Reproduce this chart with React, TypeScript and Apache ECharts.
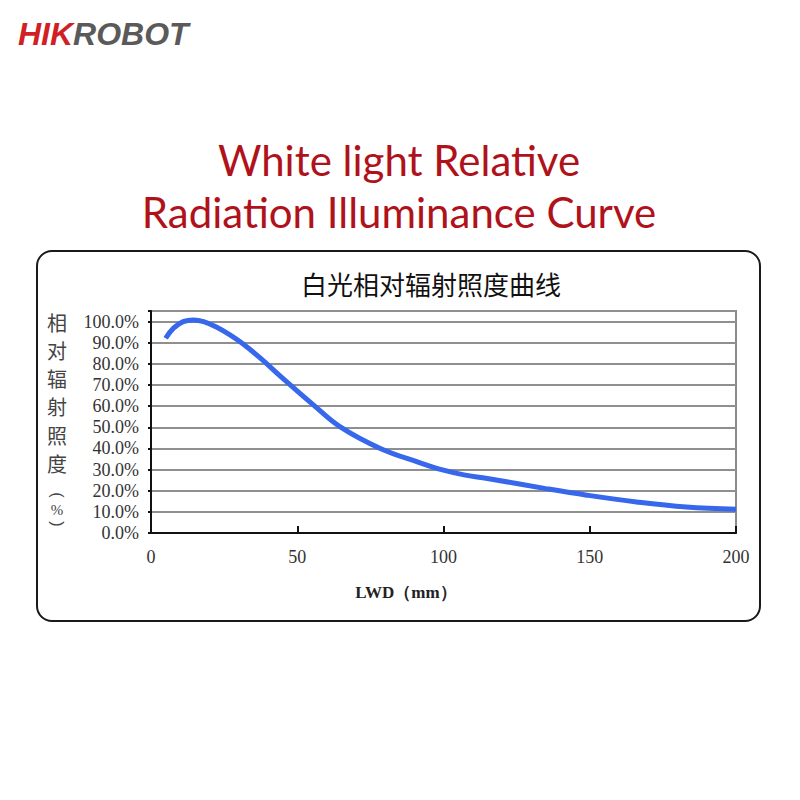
import React, { useEffect, useRef } from "react";
import * as echarts from "echarts";

// LWD (mm) and relative radiation illuminance (%)
const lwd = [5, 7.7, 11, 14.5, 18, 22.5, 27, 31.5, 37.5, 44.3, 55.6, 64.7, 78.4, 92, 100, 107, 115, 135, 149, 166, 183, 200];
const relative = [92.1, 96.9, 100, 100.8, 100, 97.3, 93.7, 89.4, 82.6, 74.1, 60.5, 50.2, 40, 33.2, 29.7, 27.5, 25.8, 21, 17.9, 14.7, 12.3, 11.2];

const titleLines = ["White light Relative", "Radiation Illuminance Curve"];
const chartTitle = "白光相对辐射照度曲线";
const yNameChars = ["相", "对", "辐", "射", "照", "度"];
const yNameUnit = ["(", "%", ")"];
const xName = "LWD（mm）";

const X_MIN = 0;
const X_MAX = 200;
const X_STEP = 50;
const Y_MIN = 0;
const Y_MAX = 105;
const Y_STEP = 10;

export default function App() {
  const ref = useRef<HTMLDivElement>(null);

  useEffect(() => {
    if (!ref.current) return;
    const chart = echarts.init(ref.current, undefined, { renderer: "svg" });
    const labelFont = "'Liberation Serif', 'DejaVu Serif', serif";
    const cjk = "'Noto Sans CJK SC', sans-serif";
    const logoFont = "'Liberation Sans', Arial, sans-serif";

    const graphics: any[] = [
      {
        type: "text",
        left: 18,
        top: 18,
        style: {
          text: "{a|HIK}{b|ROBOT}",
          rich: {
            a: { fill: "#d11f28", fontSize: 32, fontWeight: "bold", fontStyle: "italic", fontFamily: logoFont },
            b: { fill: "#5a5a5a", fontSize: 32, fontWeight: "bold", fontStyle: "italic", fontFamily: logoFont },
          },
        },
      },
      {
        type: "text",
        x: 399,
        y: 160,
        style: {
          text: titleLines[0],
          fill: "#b0121b",
          fontSize: 42,
          fontFamily: "Lato, 'Open Sans', sans-serif",
          align: "center",
          verticalAlign: "middle",
        },
      },
      {
        type: "text",
        x: 399,
        y: 212,
        style: {
          text: titleLines[1],
          fill: "#b0121b",
          fontSize: 42,
          fontFamily: "Lato, 'Open Sans', sans-serif",
          align: "center",
          verticalAlign: "middle",
        },
      },
      {
        type: "rect",
        shape: { x: 37, y: 251, width: 723, height: 370, r: 15 },
        style: { fill: "none", stroke: "#1a1a1a", lineWidth: 2 },
        z: -1,
      },
      {
        type: "text",
        x: 431,
        y: 283,
        style: {
          text: chartTitle,
          fill: "#111",
          fontSize: 26,
          fontFamily: cjk,
          align: "center",
          verticalAlign: "middle",
        },
      },
      {
        type: "text",
        x: 406,
        y: 592,
        style: {
          text: xName,
          fill: "#222",
          fontSize: 17,
          fontWeight: "bold",
          fontFamily: labelFont,
          align: "center",
          verticalAlign: "middle",
        },
      },
    ];
    yNameChars.forEach((c, i) => {
      graphics.push({
        type: "text",
        x: 57,
        y: 322 + i * 28.3,
        style: { text: c, fill: "#444", fontSize: 20, fontFamily: cjk, align: "center", verticalAlign: "middle" },
      });
    });
    const unitY = [495, 510, 524];
    yNameUnit.forEach((c, i) => {
      graphics.push({
        type: "text",
        x: 57,
        y: unitY[i],
        rotation: i === 1 ? 0 : -Math.PI / 2,
        style: {
          text: c,
          fill: "#444",
          fontSize: i === 1 ? 15 : 16,
          fontFamily: i === 1 ? labelFont : "'Liberation Sans', sans-serif",
          align: "center",
          verticalAlign: "middle",
        },
      });
    });

    chart.setOption({
      animation: false,
      backgroundColor: "#ffffff",
      grid: {
        left: 151,
        right: 64,
        top: 311,
        bottom: 267,
        show: true,
        borderColor: "#8a8a8a",
        borderWidth: 2,
        backgroundColor: "transparent",
      },
      xAxis: {
        type: "value",
        min: X_MIN,
        max: X_MAX,
        interval: X_STEP,
        axisLine: { show: true, onZero: false, lineStyle: { color: "#111", width: 2 } },
        axisTick: { show: true, inside: true, length: 7, lineStyle: { color: "#111", width: 2 } },
        splitLine: { show: false },
        axisLabel: { color: "#333", fontSize: 18, fontFamily: labelFont, margin: 15 },
      },
      yAxis: {
        type: "value",
        min: Y_MIN,
        max: Y_MAX,
        interval: Y_STEP,
        axisLine: { show: true, lineStyle: { color: "#111", width: 2 } },
        axisTick: { show: true, inside: false, length: 3, lineStyle: { color: "#111", width: 2 } },
        splitLine: { show: true, lineStyle: { color: "#8f8f8f", width: 2 } },
        axisLabel: {
          color: "#333",
          fontSize: 18,
          fontFamily: labelFont,
          margin: 12,
          formatter: (v: number) => (v > 100 ? "" : v.toFixed(1) + "%"),
        },
      },
      series: [
        {
          type: "line",
          data: lwd.map((x, i) => [x, relative[i]]),
          smooth: 0.4,
          symbol: "none",
          lineStyle: { color: "#3768ec", width: 5 },
          z: 5,
        },
      ],
      graphic: graphics,
    });

    return () => chart.dispose();
  }, []);

  return (
    <div
      ref={ref}
      style={{ position: "fixed", left: 0, top: 0, width: 800, height: 800, background: "#fff" }}
    />
  );
}
